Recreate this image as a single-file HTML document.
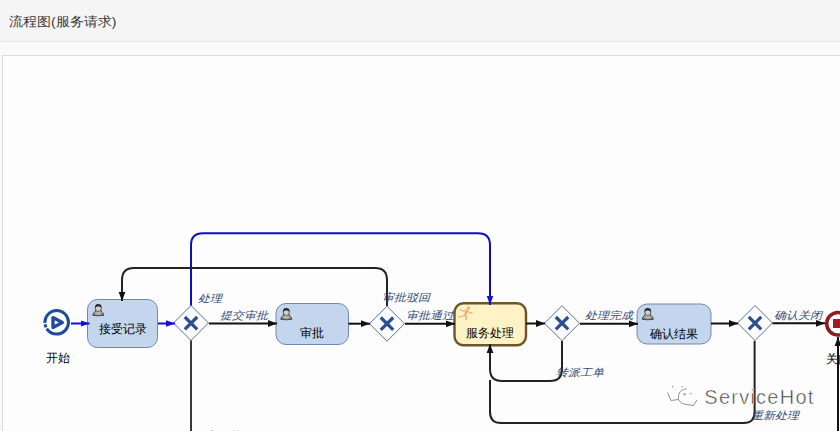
<!DOCTYPE html>
<html><head><meta charset="utf-8">
<style>
html,body{margin:0;padding:0;width:840px;height:431px;overflow:hidden;background:#f9f9f9;font-family:"Liberation Sans",sans-serif;}
#hdr{position:absolute;left:0;top:0;width:840px;height:41px;background:#f5f5f5;border-bottom:1px solid #e6e6e6;}
#title{position:absolute;left:9px;top:11.6px;font-size:14px;color:#3a3a3a;line-height:20px;white-space:nowrap;transform:scaleY(0.93);transform-origin:0 0;}
#panel{position:absolute;left:2px;top:55px;width:900px;height:500px;background:#fdfdfd;border:1px solid #dcdcdc;}
.lbl{position:absolute;font-size:12px;font-style:italic;color:#2f4a78;line-height:14px;white-space:nowrap;transform:scaleY(0.87);transform-origin:0 0;}
.tl{position:absolute;font-size:12px;font-weight:500;color:#000;line-height:15px;white-space:nowrap;}
svg{position:absolute;left:0;top:0;}
</style></head><body>
<div id="hdr"><div id="title">流程图(服务请求)</div></div>
<div id="panel"></div>
<svg width="840" height="431" viewBox="0 0 840 431">
<defs>
<marker id="ab" markerWidth="10" markerHeight="8" refX="9" refY="4" orient="auto" markerUnits="userSpaceOnUse"><path d="M0,0.8 L9,4 L0,7.2 Z" fill="#1010d8"/></marker>
<marker id="ak" markerWidth="10" markerHeight="8" refX="9" refY="4" orient="auto" markerUnits="userSpaceOnUse"><path d="M0,0.6 L9,4 L0,7.4 Z" fill="#111"/></marker>
<radialGradient id="bodyg" cx="0.5" cy="0.55" r="0.6"><stop offset="0" stop-color="#c6c6be"/><stop offset="0.55" stop-color="#9a9a92"/><stop offset="1" stop-color="#5a5a55"/></radialGradient>
</defs>
<!-- tasks -->
<rect x="87.5" y="299.5" width="70" height="48" rx="10" fill="#c4d5ee" stroke="#7088b0" stroke-width="1"/>
<rect x="276" y="303.5" width="72.5" height="41" rx="10" fill="#c4d5ee" stroke="#7088b0" stroke-width="1"/>
<rect x="454.5" y="303.3" width="71.5" height="41.9" rx="9" fill="#fff2c4" stroke="#6e5527" stroke-width="2.4"/>
<rect x="637" y="304" width="74" height="40" rx="10" fill="#c4d5ee" stroke="#7088b0" stroke-width="1"/>
<!-- gateways -->
<g fill="#fbfcfe" stroke="#5d6e98" stroke-width="1">
<path d="M191,305.5 L208.5,323 L191,340.5 L173.5,323 Z"/>
<path d="M387,306.2 L404.5,323.7 L387,341.2 L369.5,323.7 Z"/>
<path d="M562,305.7 L579.5,323.2 L562,340.7 L544.5,323.2 Z"/>
<path d="M755,305.5 L772.5,323 L755,340.5 L737.5,323 Z"/>
</g>
<g stroke="#2a4e8e" stroke-width="3.2" stroke-linecap="butt">
<path d="M184.8,317.0 L197.2,329.4 M197.2,317.0 L184.8,329.4"/>
<path d="M380.8,317.5 L393.2,329.9 M393.2,317.5 L380.8,329.9"/>
<path d="M555.8,317.0 L568.2,329.4 M568.2,317.0 L555.8,329.4"/>
<path d="M748.8,316.90000000000003 L761.2,329.3 M761.2,316.90000000000003 L748.8,329.3"/>
</g>
<!-- flows -->
<g fill="none" stroke-width="2">
<path d="M191,305.5 V245 Q191,233.3 203,233.3 H478 Q490,233.3 490,245 V305" stroke="#0e0ebc" marker-end="url(#ab)"/>
<path d="M71,323.5 H89.5" stroke="#1010d8" marker-end="url(#ab)"/>
<path d="M158,323.5 H175" stroke="#1010d8" marker-end="url(#ab)"/>
<path d="M209,323.5 H277" stroke="#111" marker-end="url(#ak)"/>
<path d="M348.5,323.7 H370" stroke="#111" marker-end="url(#ak)"/>
<path d="M387,306 V280 Q387,268 375,268 H134 Q122,268 122,280 V301" stroke="#232323" marker-end="url(#ak)"/>
<path d="M405,323.8 H455" stroke="#111" marker-end="url(#ak)"/>
<path d="M526,323.5 H545" stroke="#111" marker-end="url(#ak)"/>
<path d="M562,341 V369 Q562,381 550,381 H502 Q490,381 490,369 V344" stroke="#232323" marker-end="url(#ak)"/>
<path d="M580,323.8 H638" stroke="#111" marker-end="url(#ak)"/>
<path d="M711,323.5 H738" stroke="#111" marker-end="url(#ak)"/>
<path d="M772.5,323.3 H825" stroke="#111" marker-end="url(#ak)"/>
<path d="M754.6,341 V412 Q754.6,423 743.6,423 H501 Q490,423 490,412 V380" stroke="#232323"/>
<path d="M191,340.5 V431" stroke="#383838"/>
<path d="M838,431 V337" stroke="#111" marker-end="url(#ak)"/>
</g>
<!-- start event -->
<circle cx="56.7" cy="322.3" r="11.8" fill="#fff" stroke="#1f4c9c" stroke-width="3" stroke-dasharray="30.2 1.3 3.3 1.3 38.0 0"/>
<path d="M53,317.6 L62.3,322.5 L53,327.4 Z" fill="#fff" stroke="#1f4c9c" stroke-width="3.4" stroke-linejoin="round"/>
<!-- end event -->
<circle cx="838" cy="323.8" r="11.3" fill="#fff" stroke="#8e1b1f" stroke-width="3.5"/>
<rect x="833" y="319" width="10" height="9" fill="#a01d22"/>
<g stroke-linecap="round" stroke-linejoin="round" fill="none" opacity="0.85">
<circle cx="468.5" cy="307.9" r="1.5" fill="#eb9d58"/>
<path d="M466.8,310.3 L465.1,315.2" stroke="#eb9d58" stroke-width="2.2"/>
<path d="M466.6,310.6 L463.2,311.2 L460,309.6" stroke="#f2b47c" stroke-width="1.5"/>
<path d="M466.8,310.8 L469.4,312.4 L472,312.9" stroke="#f0aa6c" stroke-width="1.5"/>
<path d="M465.1,315.2 L462,316.2 L458.6,316.6" stroke="#f2b47c" stroke-width="1.6"/>
<path d="M465.3,315.4 L466.6,317.4 L465.8,319.6" stroke="#f0aa6c" stroke-width="1.6"/>
</g>
<!-- user icons -->
<g id="uic" transform="translate(92.3,303.7)">
<path d="M3.7,5.6 C3.5,8.4 0.5,8.8 0.5,11.6 Q6,12.6 11.5,11.6 C11.5,8.8 8.5,8.4 8.3,5.6 Z" fill="url(#bodyg)" stroke="#3e3e3c" stroke-width="0.9"/>
<ellipse cx="6" cy="4.2" rx="3.1" ry="3.6" fill="#d2d2ca" stroke="#333" stroke-width="0.7"/>
<path d="M2.8,4.6 C2.6,1 4,0.5 6,0.5 C8,0.5 9.4,1 9.2,4.6 C8.4,3 7,2.8 6,2.8 C5,2.8 3.6,3 2.8,4.6 Z" fill="#262626"/>
</g>
<use href="#uic" transform="translate(188,4)"/>
<use href="#uic" transform="translate(549.5,4)"/>
<g fill="none" stroke="#555" stroke-width="1" opacity="0.65">
<path d="M672,386.6 h1.2 M681.6,386.6 h1.2" stroke-width="1.2"/>
<path d="M667.5,392.5 L671,400.5 L678.5,399.5"/>
<path d="M678.5,399.5 C678,392 681,389.5 686.5,389 M678.5,399.5 C680,402.5 682,404 686,404.4 L693.5,405.6 L696.8,400"/>
<circle cx="684.5" cy="394.3" r="0.9"/>
<path d="M690.3,393.6 h1.2" stroke-width="1.2"/>
</g>
<text x="704.3" y="403.6" font-family="Liberation Sans" font-size="20" letter-spacing="1.25" fill="#2a2a2a" stroke="#fcfcfc" stroke-width="0.55" opacity="0.92">ServiceHot</text>
</svg>
<div class="tl" style="left:45.7px;top:351px">开始</div>
<div class="tl" style="left:99px;top:322px">接受记录</div>
<div class="tl" style="left:300px;top:326px">审批</div>
<div class="tl" style="left:466px;top:326px">服务处理</div>
<div class="tl" style="left:650px;top:327px">确认结果</div>
<div class="tl" style="left:825.5px;top:352px">关闭</div>
<div class="lbl" style="left:198px;top:292px">处理</div>
<div class="lbl" style="left:220px;top:308.5px">提交审批</div>
<div class="lbl" style="left:382px;top:291px">审批驳回</div>
<div class="lbl" style="left:406px;top:309px">审批通过</div>
<div class="lbl" style="left:585px;top:309px">处理完成</div>
<div class="lbl" style="left:556px;top:365.5px">转派工单</div>
<div class="lbl" style="left:774px;top:308.5px">确认关闭</div>
<div class="lbl" style="left:751px;top:409px">重新处理</div>
<div class="lbl" style="left:192px;top:429px">作废工单</div>
</body></html>
